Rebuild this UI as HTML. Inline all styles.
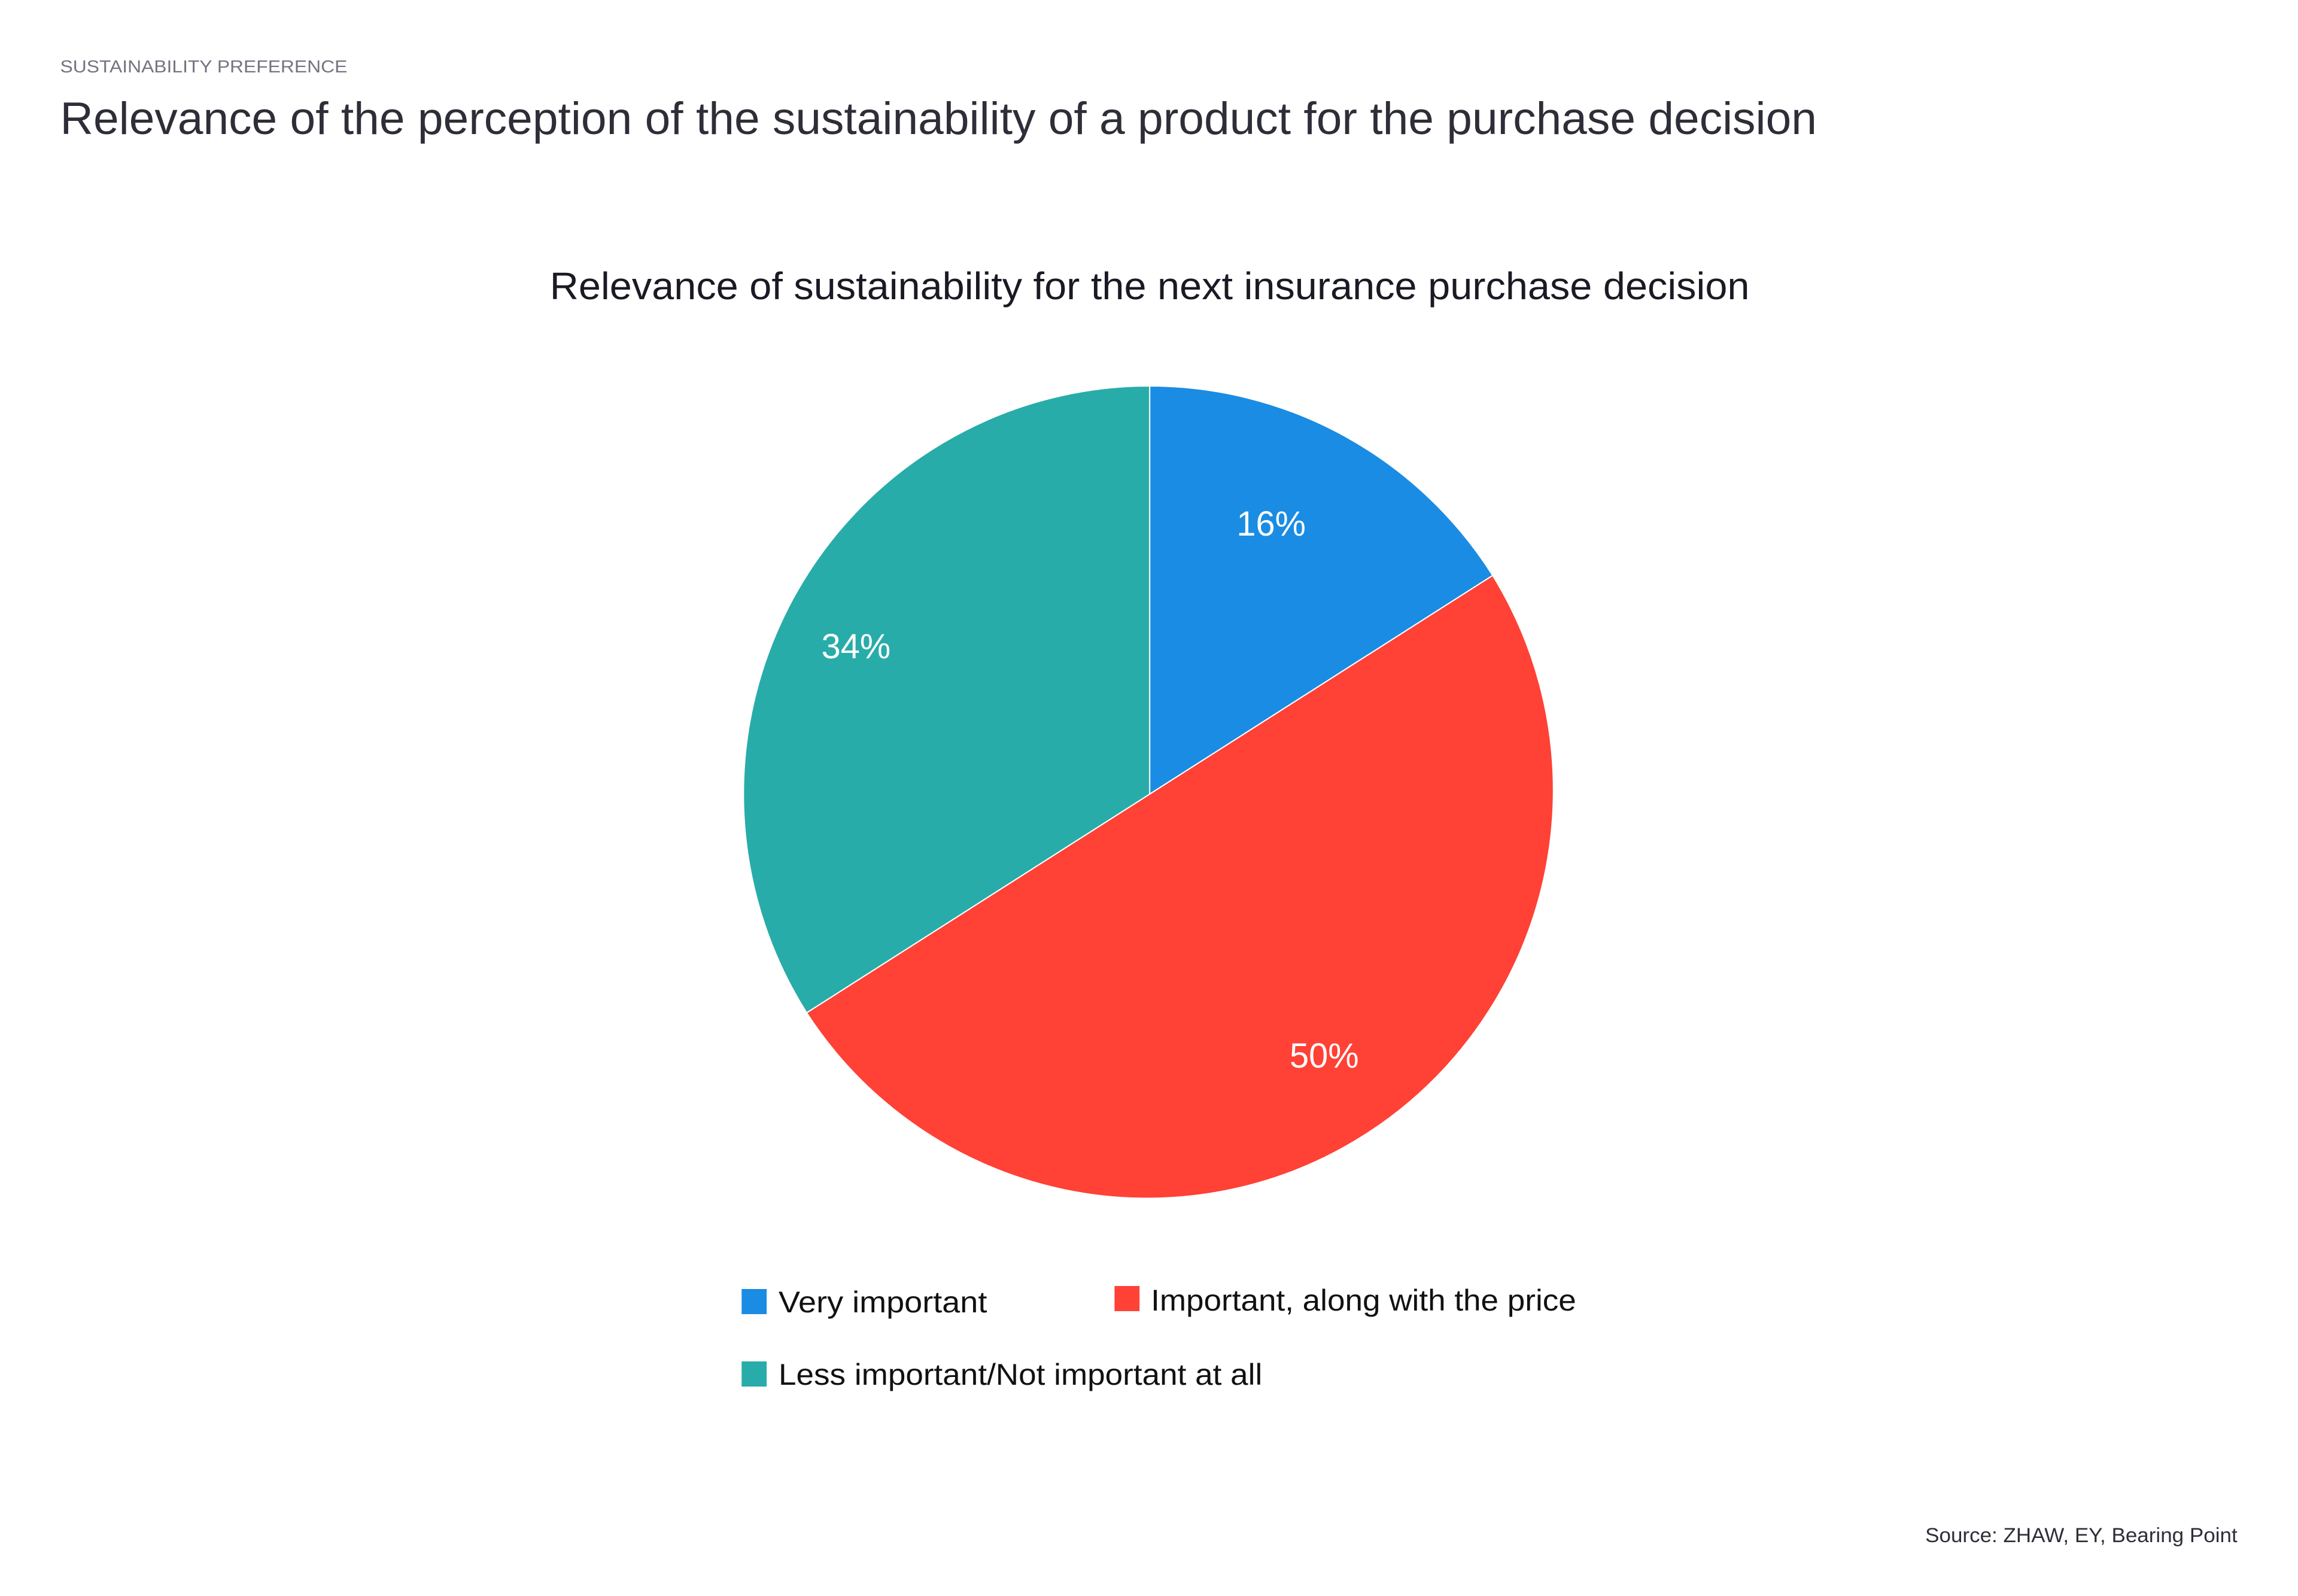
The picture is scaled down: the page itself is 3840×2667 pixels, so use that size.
<!DOCTYPE html>
<html><head><meta charset="utf-8"><style>
html,body{margin:0;padding:0;background:#fff;}
svg{display:block;}
text{font-family:"Liberation Sans",sans-serif;}
</style></head><body>
<svg width="3840" height="2667" viewBox="0 0 3840 2667" xmlns="http://www.w3.org/2000/svg">
<rect width="3840" height="2667" fill="#fff"/>
<g transform="scale(0.9954 1)">
<text x="101" y="121" font-size="29" fill="#747480" textLength="482" lengthAdjust="spacingAndGlyphs">SUSTAINABILITY PREFERENCE</text>
<text x="101" y="224" font-size="76" fill="#2e2e38" textLength="2949" lengthAdjust="spacingAndGlyphs">Relevance of the perception of the sustainability of a product for the purchase decision</text>
<text x="923" y="500" font-size="64" fill="#1a1a24" textLength="2014" lengthAdjust="spacingAndGlyphs">Relevance of sustainability for the next insurance purchase decision</text>
<path d="M1930,1327 L1930,645 A682,682 0 0 1 2505.8,961.6 Z" fill="#1a8ce3" stroke="#fff" stroke-width="2"/>
<path d="M1930,1327 L2505.8,961.6 A682,682 0 0 1 1354.2,1692.4 Z" fill="#ff4136" stroke="#fff" stroke-width="2"/>
<path d="M1930,1327 L1354.2,1692.4 A682,682 0 0 1 1930,645 Z" fill="#28aca9" stroke="#fff" stroke-width="2"/>
<text x="2134" y="895" font-size="58" fill="#fff" text-anchor="middle">16%</text>
<text x="1437" y="1100" font-size="58" fill="#fff" text-anchor="middle">34%</text>
<text x="2223" y="1784" font-size="58" fill="#fff" text-anchor="middle">50%</text>
<rect x="1245" y="2154" width="42" height="42" fill="#1a8ce3"/>
<text x="1307" y="2193" font-size="50" fill="#111" textLength="350" lengthAdjust="spacingAndGlyphs">Very important</text>
<rect x="1871" y="2149" width="42" height="42" fill="#ff4136"/>
<text x="1932" y="2190" font-size="50" fill="#111" textLength="714" lengthAdjust="spacingAndGlyphs">Important, along with the price</text>
<rect x="1245" y="2275" width="42" height="42" fill="#28aca9"/>
<text x="1307" y="2314" font-size="50" fill="#111" textLength="812" lengthAdjust="spacingAndGlyphs">Less important/Not important at all</text>
<text x="3232" y="2577" font-size="34" fill="#2e2e38" textLength="524" lengthAdjust="spacingAndGlyphs">Source: ZHAW, EY, Bearing Point</text>
</g>
</svg>
</body></html>
